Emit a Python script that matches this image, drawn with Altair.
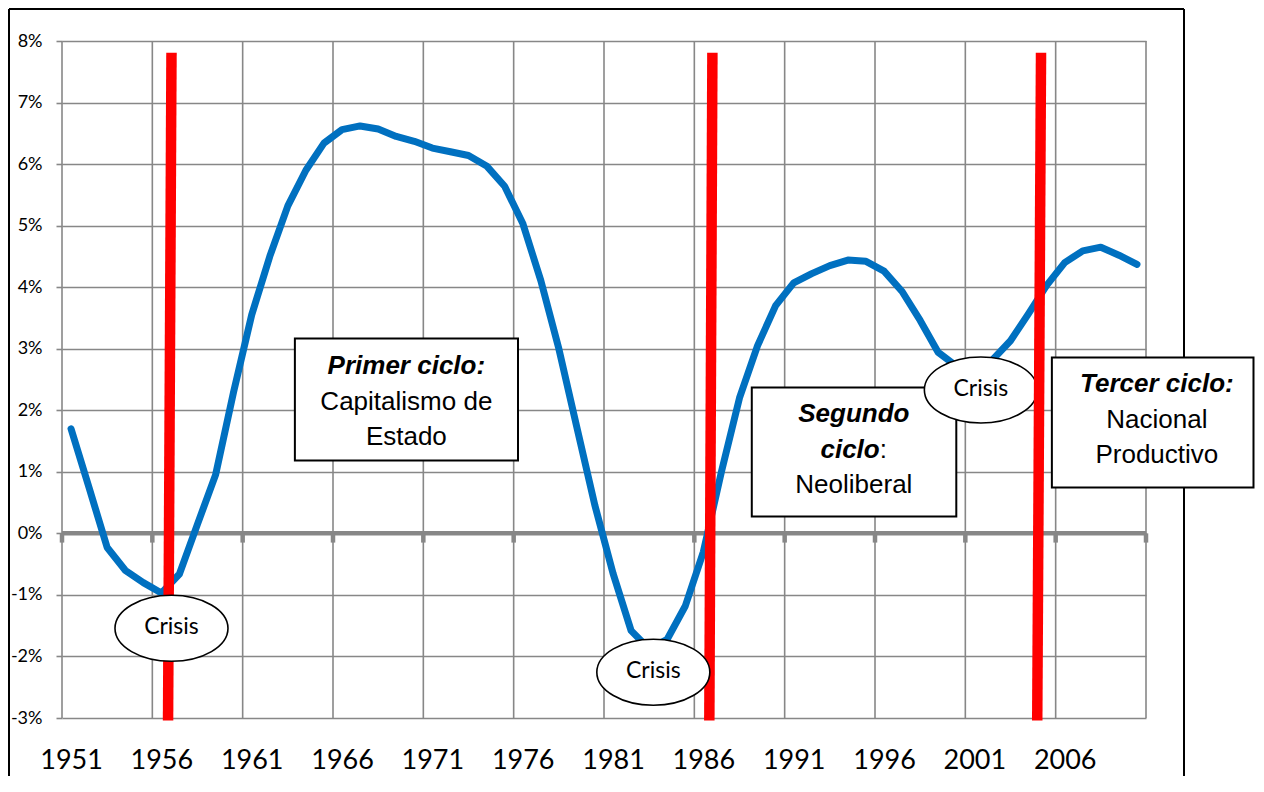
import altair as alt
import pandas as pd

# ---- data -------------------------------------------------------------
years = list(range(1951, 2011))
growth = [
    1.70, 0.74, -0.23, -0.60, -0.80, -0.97, -0.66, 0.15, 0.95, 2.30,   # 1951-1960
    3.55, 4.50, 5.32, 5.90, 6.34, 6.56, 6.62, 6.57, 6.45, 6.37,        # 1961-1970
    6.26, 6.20, 6.14, 5.97, 5.64, 5.04, 4.11, 3.00, 1.72, 0.45,        # 1971-1980
    -0.65, -1.58, -1.88, -1.72, -1.18, -0.30, 1.00, 2.20, 3.05, 3.70,  # 1981-1990
    4.07, 4.22, 4.35, 4.44, 4.42, 4.26, 3.93, 3.46, 2.94, 2.72,        # 1991-2000
    2.65, 2.82, 3.13, 3.57, 4.03, 4.40, 4.59, 4.65, 4.52, 4.37,        # 2001-2010
]
tick_years = [1951, 1956, 1961, 1966, 1971, 1976, 1981, 1986, 1991, 1996, 2001, 2006]
y_ticks = list(range(-3, 9))
grid_years = [1950.5 + 5 * k for k in range(13)]

# crisis break lines (top year, bottom year)
break_top = [1956.56, 1986.50, 2004.69]
break_bottom = [1956.37, 1986.33, 2004.48]

# annotation boxes (x from, x to, y top, y bottom) in data units
box_x1 = [1963.39, 1988.68, 2005.29]
box_x2 = [1975.74, 2000.00, 2016.45]
box_y1 = [3.166, 2.370, 2.857]
box_y2 = [1.185, 0.276, 0.747]

# crisis ellipses
crisis_x = [1956.56, 1983.23, 2001.36]
crisis_y = [-1.542, -2.256, 2.330]

# box texts
bi_text = ["Primer ciclo:", "Segundo", "Tercer ciclo:"]
bi_x = [1969.56, 1994.33, 2011.10]
bi_y = [2.597, 1.802, 2.289]
n_text = ["Capitalismo de", "Estado", "Neoliberal", "Nacional", "Productivo"]
n_x = [1969.56, 1969.56, 1994.33, 2011.10, 2011.10]
n_y = [1.997, 1.429, 0.649, 1.705, 1.136]

# ---- tables -----------------------------------------------------------
df = pd.DataFrame({"year": years, "g": growth})
grid_df = pd.DataFrame({"year": grid_years})
breaks_df = pd.DataFrame({"x": break_top, "x2": break_bottom, "y": [7.81] * 3, "y2": [-3.04] * 3})
box_df = pd.DataFrame({"x": box_x1, "x2": box_x2, "y": box_y1, "y2": box_y2})
crisis_df = pd.DataFrame({"x": crisis_x, "y": crisis_y, "t": ["Crisis"] * 3})
bi_df = pd.DataFrame({"x": bi_x, "y": bi_y, "t": bi_text})
n_df = pd.DataFrame({"x": n_x, "y": n_y, "t": n_text})
ciclo_df = pd.DataFrame({"x": [1995.76], "y": [1.218], "t": ["ciclo"]})
colon_df = pd.DataFrame({"x": [1995.76], "y": [1.218], "t": [":"]})
one = pd.DataFrame({"a": [0]})

GRID = "#878787"
xs = alt.Scale(domain=[1950.5, 2010.5], nice=False, zero=False)
ys = alt.Scale(domain=[-3, 8], nice=False, zero=False)

X = lambda f="x": alt.X(f"{f}:Q", scale=xs, title=None)
Y = lambda f="y": alt.Y(f"{f}:Q", scale=ys, title=None)

# base with axes
base = alt.Chart(df).mark_line(
    color="#0070C0", strokeWidth=7, strokeJoin="round", strokeCap="round"
).encode(
    x=alt.X("year:Q", scale=xs, title=None,
            axis=alt.Axis(values=tick_years, format="d", grid=False, ticks=False, tickSize=0,
                          domain=False, labelFont="Lato", labelFontSize=27,
                          labelColor="black", labelPadding=29)),
    y=alt.Y("g:Q", scale=ys, title=None,
            axis=alt.Axis(values=y_ticks, labelExpr="datum.value + '%'", grid=True,
                          gridColor=GRID, gridWidth=1.6, domain=False,
                          ticks=True, tickSize=6, tickColor=GRID, tickWidth=1.6,
                          labelFont="Lato", labelFontSize=18, labelColor="black",
                          labelPadding=14)),
)

vgrid = alt.Chart(grid_df).mark_rule(color=GRID, strokeWidth=1.6).encode(
    x=alt.X("year:Q", scale=xs), y=alt.value(0), y2=alt.value(677))

zero_line = alt.Chart(one).mark_rule(color=GRID, strokeWidth=4.5).encode(
    x=alt.datum(1950.5, scale=xs), x2=alt.datum(2010.5), y=alt.datum(0, scale=ys))

zero_ticks = alt.Chart(grid_df).mark_rule(color=GRID, strokeWidth=4.5).encode(
    x=alt.X("year:Q", scale=xs), y=alt.datum(0, scale=ys), y2=alt.datum(-0.15))

def break_layer(data):
    return alt.Chart(data).mark_rule(color="#FF0000", strokeWidth=10.5, strokeCap="butt").encode(
        x=X(), x2="x2:Q", y=Y(), y2="y2:Q")

breaks_low = break_layer(breaks_df.iloc[:2])
breaks_high = break_layer(breaks_df.iloc[2:])

boxes = alt.Chart(box_df).mark_rect(fill="white", stroke="black", strokeWidth=2).encode(
    x=X(), x2="x2:Q", y=Y(), y2="y2:Q")

txt_common = dict(font="Liberation Sans", fontSize=26, color="black", baseline="alphabetic")
bi_layer = alt.Chart(bi_df).mark_text(align="center", fontWeight="bold", fontStyle="italic",
                                      **txt_common).encode(x=X(), y=Y(), text="t:N")
n_layer = alt.Chart(n_df).mark_text(align="center", **txt_common).encode(x=X(), y=Y(), text="t:N")
ciclo_layer = alt.Chart(ciclo_df).mark_text(align="right", fontWeight="bold", fontStyle="italic",
                                            **txt_common).encode(x=X(), y=Y(), text="t:N")
colon_layer = alt.Chart(colon_df).mark_text(align="left", **txt_common).encode(
    x=X(), y=Y(), text="t:N")

ellipse_path = "M -1 0 A 1 0.584 0 1 1 1 0 A 1 0.584 0 1 1 -1 0 Z"
ellipses = alt.Chart(crisis_df).mark_point(
    shape=ellipse_path, size=12769, filled=True, fill="white", stroke="black",
    strokeWidth=1.6, opacity=1, fillOpacity=1, strokeOpacity=1
).encode(x=X(), y=Y())
crisis_txt = alt.Chart(crisis_df).mark_text(
    font="Lato", fontSize=23, color="black", baseline="middle", align="center", dy=-1
).encode(x=X(), y=Y(), text="t:N")

# outer frame of the chart area (pixel decoration)
frame_left = alt.Chart(one).mark_rule(color="black", strokeWidth=2).encode(
    x=alt.value(-53), y=alt.value(-32), y2=alt.value(740))
frame_top = alt.Chart(one).mark_rule(color="black", strokeWidth=2).encode(
    x=alt.value(-53), x2=alt.value(1122), y=alt.value(-32))
frame_right = alt.Chart(one).mark_rule(color="black", strokeWidth=2).encode(
    x=alt.value(1122), y=alt.value(-32), y2=alt.value(740))

chart = alt.layer(
    frame_left, frame_top, frame_right,
    vgrid, zero_line, zero_ticks, base,
    breaks_low, boxes, bi_layer, n_layer, ciclo_layer, colon_layer,
    ellipses, crisis_txt, breaks_high,
).properties(
    width=1084, height=677,
    autosize=alt.AutoSizeParams(type="none"),
    padding={"left": 54, "top": 33, "right": 110, "bottom": 58},
    background="white",
).configure_view(stroke="transparent")

chart.save("out.html", embed_options={"renderer": "svg", "actions": False})
